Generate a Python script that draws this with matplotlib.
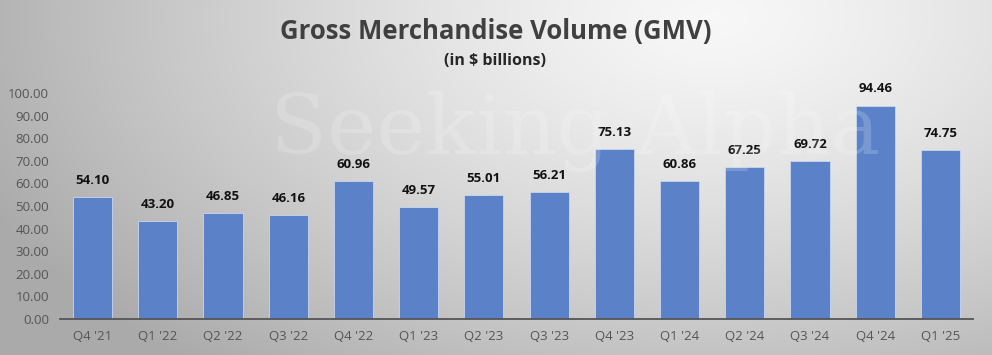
import numpy as np
import matplotlib.pyplot as plt

quarters = ["Q4 '21", "Q1 '22", "Q2 '22", "Q3 '22", "Q4 '22", "Q1 '23", "Q2 '23",
            "Q3 '23", "Q4 '23", "Q1 '24", "Q2 '24", "Q3 '24", "Q4 '24", "Q1 '25"]
gmv = [54.10, 43.20, 46.85, 46.16, 60.96, 49.57, 55.01, 56.21, 75.13, 60.86,
       67.25, 69.72, 94.46, 74.75]
yticks = [0, 10, 20, 30, 40, 50, 60, 70, 80, 90, 100]

W, H = 992, 355
fig = plt.figure(figsize=(W / 100, H / 100), dpi=100)

# background gradient
bg = fig.add_axes([0, 0, 1, 1])
yy, xx = np.mgrid[0:H, 0:W]
cx, cy = 0.72 * W, 0.05 * H
d = np.sqrt(((xx - cx) / W) ** 2 + ((yy - cy) / (H * 1.6)) ** 2)
v = 0.97 - 0.30 * np.clip(d / 0.8, 0, 1) ** 1.3
img = np.dstack([v, v, v])
bg.imshow(img, aspect='auto', extent=[0, 1, 0, 1], origin='upper')
bg.set_xlim(0, 1); bg.set_ylim(0, 1)
bg.axis('off')

ax = fig.add_axes([60 / W, 1 - 319 / H, (973 - 60) / W, (319 - 93) / H])
ax.patch.set_alpha(0)
x = np.arange(len(quarters))
ax.bar(x, gmv, width=0.6, color='#5B82C8', edgecolor='#C9D6EE', linewidth=0.6, zorder=2)

# faint watermark
fig.text(0.58, 1 - 132 / H, "Seeking Alpha", fontsize=60, family="DejaVu Serif",
         color='white', alpha=0.18, ha='center', va='center', zorder=5)

for xi, v_ in zip(x, gmv):
    ax.text(xi, v_ + 4.5, f"{v_:.2f}", ha='center', va='bottom', fontsize=9.5,
            fontweight='bold', color='#111111', family='Open Sans', zorder=6)
ax.set_xlim(-0.5, len(quarters) - 0.5)
ax.set_ylim(0, 100)
ax.set_yticks(yticks)
ax.set_yticklabels([f"{t:.2f}" for t in yticks])
ax.set_xticks(x)
ax.set_xticklabels(quarters)
ax.tick_params(axis='both', length=0, labelsize=9.5, colors='#555555', pad=8)
for lab in ax.get_xticklabels() + ax.get_yticklabels():
    lab.set_family('Open Sans')
for s in ['top', 'right', 'left']:
    ax.spines[s].set_visible(False)
ax.spines['bottom'].set_color('#555555')
ax.spines['bottom'].set_linewidth(1.3)

fig.text(0.5 * (283 + 708) / W, 1 - 32 / H, "Gross Merchandise Volume (GMV)", ha='center',
         va='center', fontsize=18.5, fontweight='bold', color='#404040', family='Open Sans')
fig.text(0.5 * (283 + 708) / W, 1 - 61 / H, "(in $ billions)", ha='center', va='center',
         fontsize=11.5, fontweight='bold', color='#262626', family='Open Sans')

fig.savefig("out.png", dpi=100)
